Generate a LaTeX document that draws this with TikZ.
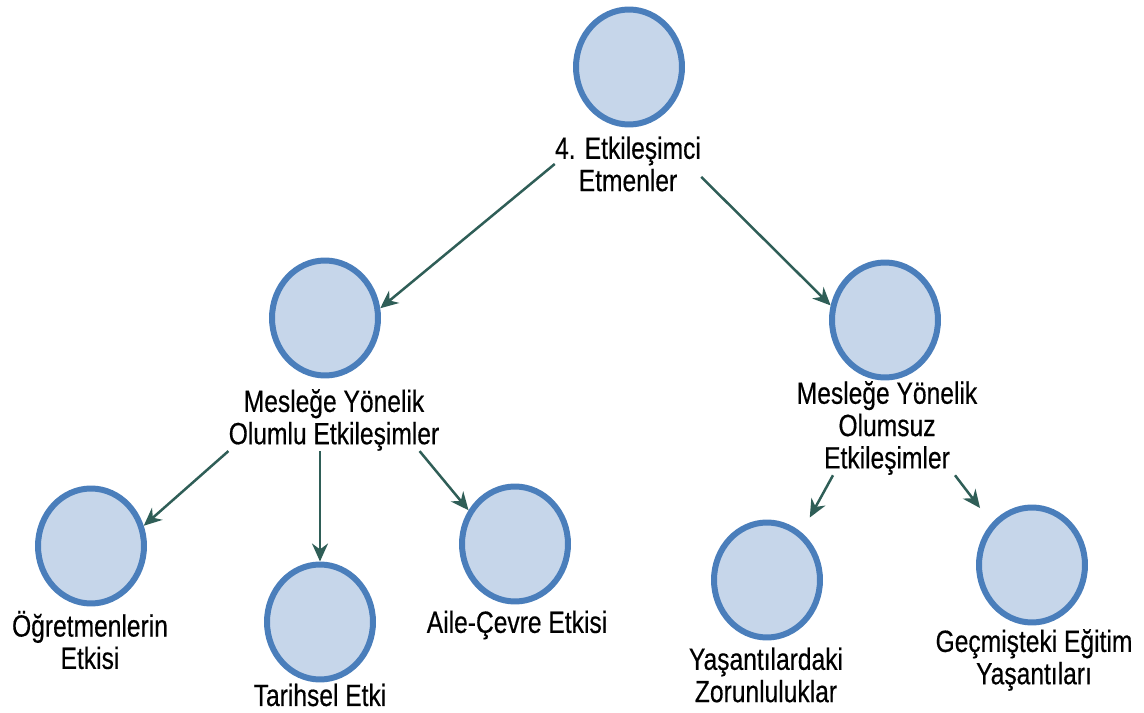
\documentclass[tikz,border=0pt]{standalone}
\usepackage{fontspec}
\setmainfont{Liberation Sans}[FakeStretch=0.8,FakeBold=0.4]
\usetikzlibrary{shapes.geometric,arrows.meta,calc}
\definecolor{cfill}{RGB}{198,214,234}
\definecolor{cline}{RGB}{74,126,187}
\definecolor{arrc}{RGB}{47,94,87}
\begin{document}
\begin{tikzpicture}[x=0.02cm,y=-0.02cm,
 bub/.style={ellipse,draw=cline,fill=cfill,line width=0.12cm,minimum width=2.12cm,minimum height=2.3cm,inner sep=0},
 lbl/.style={align=center,inner sep=0,font=\fontsize{17.5}{18.4}\selectfont},
 arr/.style={draw=arrc,line width=0.05cm,-{Stealth[length=0.36cm,width=0.32cm]}}]
\useasboundingbox (0,0) rectangle (1144,713);
\node[bub] (c0) at (629,67) {};
\node[lbl] (t0) at (628,164) {4. Etkileşimci\\Etmenler};
\node[bub] (c1) at (325,318) {};
\node[lbl] (t1) at (334,420) {Mesleğe Yönelik\\Olumlu Etkileşimler};
\node[bub] (c2) at (885,320) {};
\node[lbl] (t2) at (887,428) {Mesleğe Yönelik\\Olumsuz\\Etkileşimler};
\node[bub] (c3) at (91,546) {};
\node[lbl] (t3) at (90,640) {Öğretmenlerin\\Etkisi};
\node[bub] (c4) at (320,622) {};
\node[lbl] (t4) at (320,695) {Tarihsel Etki};
\node[bub] (c5) at (515,544) {};
\node[lbl] (t5) at (517,625) {Aile-Çevre Etkisi};
\node[bub] (c6) at (767,580) {};
\node[lbl] (t6) at (766,675) {Yaşantılardaki\\Zorunluluklar};
\node[bub] (c7) at (1032,565) {};
\node[lbl] (t7) at (1034,660) {Geçmişteki Eğitim\\Yaşantıları};
\draw[arr] (t0.west) -- (c1.10);
\draw[arr] (t0.-10) -- (c2.165);
\draw[arr] (t1.south west) -- (c3.21);
\draw[arr] (t1.south -| c4) -- (c4.north);
\draw[arr] ($(t1.south east)+(-20,0)$) -- (c5.144);
\draw[arr,shorten >=0.34cm] ($(t2.south)+(-54,0)$) -- (c6.54);
\draw[arr,shorten >=0.38cm] ($(t2.south)+(68,0)$) -- (c7.134);
\end{tikzpicture}
\end{document}
